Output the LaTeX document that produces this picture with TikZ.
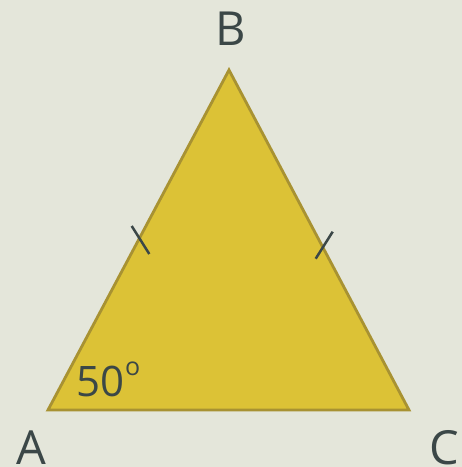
\documentclass[tikz,border=0pt]{standalone}
\usepackage{fontspec}
\setmainfont{Open Sans}
\definecolor{bg}{HTML}{E4E6DA}
\definecolor{tri}{HTML}{DCC236}
\definecolor{edge}{HTML}{A89232}
\definecolor{ink}{HTML}{3B4747}
\begin{document}
\begin{tikzpicture}[x=1pt,y=1pt,
  lbl/.style={text=ink,inner sep=0pt,font=\fontsize{47}{50}\selectfont,anchor=base},
  tick/.style={draw=ink,line width=2.5pt}]
\fill[bg] (0,0) rectangle (462,467);
\useasboundingbox (0,0) rectangle (462,467);
\coordinate (A) at (48,57);
\coordinate (B) at (229,397);
\coordinate (C) at (409,57);
\filldraw[fill=tri,draw=edge,line width=2.8pt,line join=miter] (A) -- (B) -- (C) -- cycle;
\coordinate (t1a) at (131.7,241);
\coordinate (t1b) at (149.3,213);
\coordinate (t2a) at (332.7,235.3);
\coordinate (t2b) at (315.7,208.3);
\draw[tick] (t1a) -- (t1b);
\draw[tick] (t2a) -- (t2b);
\node[lbl] (lB) at (231,421.5) {B};
\node[lbl] (lA) at (31,2) {A};
\node[lbl] (lC) at (444,2) {C};
\node[text=ink,inner sep=0pt,font=\fontsize{42}{44}\selectfont,anchor=base west] (ang) at (76,70.3) {50};
\node[text=ink,inner sep=0pt,font=\fontsize{25}{27}\selectfont,anchor=base west] (deg) at (125,91) {o};
\end{tikzpicture}
\end{document}
